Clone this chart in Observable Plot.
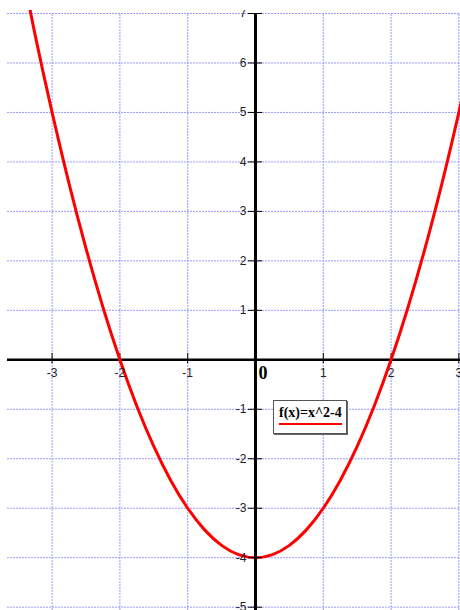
<!DOCTYPE html>
<html>
<head>
<meta charset="utf-8">
<script src="https://cdn.jsdelivr.net/npm/d3@7"></script>
<script src="https://cdn.jsdelivr.net/npm/@observablehq/plot@0.6"></script>
<style>
  body { margin: 0; background: #fff; }
  #wrap { position: relative; width: 460px; height: 610px; overflow: hidden; background: #fff; }
  #wrap svg { display: block; }
  #topband { position: absolute; left: 0; top: 0; width: 460px; height: 10px; background: #fff; }
  #legend {
    position: absolute; left: 273px; top: 400px; width: 72px; height: 32px;
    border: 1px solid #555; box-shadow: 1px 1px 0 #666; background: #fff;
  }
  #legend span {
    position: absolute; left: 5px; top: 5px;
    font: bold 14px/14px "Liberation Serif", "DejaVu Serif", serif; color: #000;
    padding-bottom: 2.5px; border-bottom: 2.5px solid #ff0000; white-space: nowrap;
  }
</style>
</head>
<body>
<div id="wrap">
  <div id="chart"></div>
  <div id="topband"></div>
  <div id="legend"><span>f(x)=x^2-4</span></div>
</div>
<script>
// Tick positions and labels
const xTicks = [-3, -2, -1, 1, 2, 3];
const xTickLabels = ["-3", "-2", "-1", "1", "2", "3"];
const yTicks = [7, 6, 5, 4, 3, 2, 1, -1, -2, -3, -4, -5];
const yTickLabels = ["7", "6", "5", "4", "3", "2", "1", "-1", "-2", "-3", "-4", "-5"];

// Sampled points of f(x) = x^2 - 4
const curveX = [-3.5, -3.25, -3, -2.75, -2.5, -2.25, -2, -1.75, -1.5, -1.25, -1, -0.75, -0.5, -0.25,
                0, 0.25, 0.5, 0.75, 1, 1.25, 1.5, 1.75, 2, 2.25, 2.5, 2.75, 3, 3.25];
const curveY = [8.25, 6.5625, 5, 3.5625, 2.25, 1.0625, 0, -0.9375, -1.75, -2.4375, -3, -3.4375, -3.75, -3.9375,
                -4, -3.9375, -3.75, -3.4375, -3, -2.4375, -1.75, -0.9375, 0, 1.0625, 2.25, 3.5625, 5, 6.5625];
const curve = curveX.map((x, i) => ({x, y: curveY[i]}));

// Layout
const W = 460, H = 610, mL = 7, mT = 13;
const xDomain = [-3.658, 3.024];
const yDomain = [-5.067, 7];
const ux = (W - mL) / (xDomain[1] - xDomain[0]);   // pixels per x unit
const uy = (H - mT) / (yDomain[1] - yDomain[0]);   // pixels per y unit
const px = p => p / ux, py = p => p / uy;
const yMax = d3.max(yTicks);

const grid = {stroke: "#9a9aff", strokeWidth: 1, strokeDasharray: "2,1"};
const tickFont = {fontSize: 12, fontFamily: "Liberation Sans, Arial, sans-serif", fill: "#222"};

const chart = Plot.plot({
  width: W, height: H,
  marginLeft: mL, marginTop: mT, marginRight: 0, marginBottom: 0,
  x: {domain: xDomain, axis: null},
  y: {domain: yDomain, axis: null},
  marks: [
    // dotted grid
    Plot.ruleX(xTicks, {x: d => d, y1: yDomain[0], y2: yMax, ...grid}),
    Plot.ruleY(yTicks, {y: d => d, ...grid}),
    // horizontal axis with tick marks
    Plot.ruleY([0], {stroke: "#000", strokeWidth: 2.5}),
    Plot.ruleX(xTicks, {x: d => d, y1: -py(4), y2: py(6.5), stroke: "#000", strokeWidth: 1}),
    // the parabola
    Plot.line(curve, {x: "x", y: "y", stroke: "#ff0000", strokeWidth: 3, curve: "natural"}),
    // vertical axis with tick marks
    Plot.ruleX([0], {y1: yDomain[0], y2: yMax, stroke: "#000", strokeWidth: 3}),
    Plot.ruleY(yTicks, {y: d => d, x1: -px(7), x2: px(7), stroke: "#000", strokeWidth: 1}),
    // tick labels
    Plot.text(xTicks, {x: d => d, y: 0, text: (d, i) => xTickLabels[i], dy: 13, ...tickFont}),
    Plot.text(yTicks, {x: 0, y: d => d, text: (d, i) => yTickLabels[i], textAnchor: "end", dx: -9, ...tickFont}),
    // origin label
    Plot.text(["0"], {x: 0, y: 0, text: d => d, dx: 7.5, dy: 13.5, fontSize: 18, fontWeight: "bold",
                      fontFamily: "Liberation Serif, serif", fill: "#000"})
  ]
});
document.getElementById("chart").appendChild(chart);
</script>
</body>
</html>
